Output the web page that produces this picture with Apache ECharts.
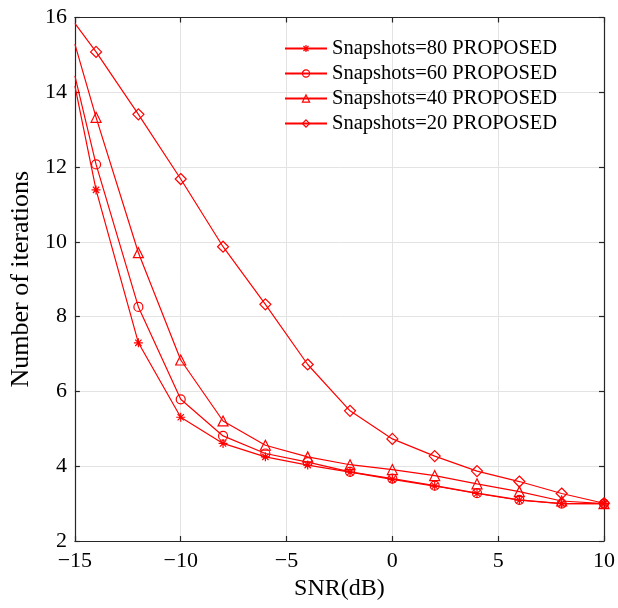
<!DOCTYPE html>
<html>
<head>
<meta charset="utf-8">
<script src="https://cdn.jsdelivr.net/npm/echarts@6/dist/echarts.min.js"></script>
<style>html,body{margin:0;padding:0;background:#fff;}#c{width:618px;height:608px;}</style>
</head>
<body>
<div id="c"></div>
<script>
const snr = [-15, -14, -12, -10, -8, -6, -4, -2, 0, 2, 4, 6, 8, 10];
const snap80 = [14.17, 11.39, 7.30, 5.31, 4.61, 4.25, 4.03, 3.84, 3.65, 3.47, 3.27, 3.09, 3.00, 3.00];
const snap60 = [14.44, 12.07, 8.26, 5.79, 4.81, 4.34, 4.11, 3.85, 3.67, 3.48, 3.28, 3.10, 3.00, 3.00];
const snap40 = [15.29, 13.33, 9.71, 6.84, 5.21, 4.56, 4.25, 4.04, 3.91, 3.75, 3.53, 3.32, 3.07, 3.00];
const snap20 = [15.84, 15.08, 13.41, 11.68, 9.87, 8.33, 6.72, 5.48, 4.73, 4.27, 3.87, 3.59, 3.27, 3.01];
const names = ['Snapshots=80 PROPOSED', 'Snapshots=60 PROPOSED', 'Snapshots=40 PROPOSED', 'Snapshots=20 PROPOSED'];
const xTicks = [-15, -10, -5, 0, 5, 10];
const yTicks = [2, 4, 6, 8, 10, 12, 14, 16];

const FONT = '"Liberation Serif", "Times New Roman", serif';
const RED = '#ff0000';
const AX = '#262626';
const GRID = '#e3e3e3';
const star = 'path://M5 0 L5 10 M0 5 L10 5 M1.5 1.5 L8.5 8.5 M8.5 1.5 L1.5 8.5';

function mk(name, vals, symbol, size) {
  return {
    name: name,
    type: 'line',
    xAxisIndex: 0, yAxisIndex: 0,
    data: snr.map((x, i) => i === 0 ? { value: [x, vals[i]], symbol: 'none' } : { value: [x, vals[i]] }),
    symbol: symbol,
    symbolSize: size,
    showAllSymbol: true,
    lineStyle: { color: RED, width: 1.2 },
    itemStyle: { color: 'none', borderColor: RED, borderWidth: 1.2 },
    emphasis: { disabled: true },
    animation: false,
    z: 3
  };
}

const chart = echarts.init(document.getElementById('c'), null, { renderer: 'canvas' });
const minusFmt = v => String(v).replace('-', '\u2212');
const baseAxis = {
  type: 'value',
  axisLine: { show: true, onZero: false, lineStyle: { color: AX, width: 1.2 } },
  axisTick: { show: true, inside: true, length: 5, lineStyle: { color: AX, width: 1.2 } },
  splitLine: { show: false },
  axisLabel: { show: false }
};
chart.setOption({
  backgroundColor: '#fff',
  animation: false,
  grid: { left: 71, right: 13, top: 17.5, bottom: 67, containLabel: false },
  xAxis: [
    Object.assign({}, baseAxis, {
      position: 'bottom', min: -15, max: 10, interval: 5,
      splitLine: { show: true, lineStyle: { color: GRID, width: 1 } },
      axisLabel: { show: true, color: '#000', fontFamily: FONT, fontSize: 22, margin: 9, formatter: minusFmt },
      name: 'SNR(dB)', nameLocation: 'middle', nameGap: 27,
      nameTextStyle: { color: '#000', fontFamily: FONT, fontSize: 24 }
    }),
    Object.assign({}, baseAxis, { position: 'top', min: -15, max: 10, interval: 5 })
  ],
  yAxis: [
    Object.assign({}, baseAxis, {
      position: 'left', min: 2, max: 16, interval: 2,
      splitLine: { show: true, lineStyle: { color: GRID, width: 1 } },
      axisLabel: { show: true, color: '#000', fontFamily: FONT, fontSize: 22, margin: 8 },
      name: 'Number of iterations', nameLocation: 'middle', nameGap: 37, nameRotate: 90,
      nameTextStyle: { color: '#000', fontFamily: FONT, fontSize: 26 }
    }),
    Object.assign({}, baseAxis, { position: 'right', min: 2, max: 16, interval: 2 })
  ],
  legend: {
    orient: 'vertical',
    left: 279, top: 33,
    itemWidth: 42, itemHeight: 9, itemGap: 4,
    data: names,
    itemStyle: { color: 'none', borderColor: RED, borderWidth: 1.2 },
    textStyle: { color: '#000', fontFamily: FONT, fontSize: 20.5 },
    selectedMode: false
  },
  series: [
    mk(names[0], snap80, star, 9),
    mk(names[1], snap60, 'circle', 9),
    mk(names[2], snap40, 'triangle', 10),
    mk(names[3], snap20, 'diamond', 11)
  ]
});
</script>
</body>
</html>
